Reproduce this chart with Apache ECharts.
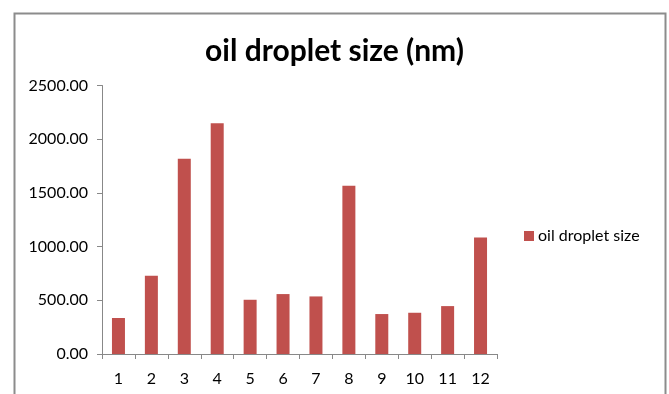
<!DOCTYPE html>
<html><head><meta charset="utf-8">
<script src="https://cdn.jsdelivr.net/npm/echarts@6/dist/echarts.min.js"></script>
<style>html,body{margin:0;padding:0;background:#fff}#c{width:669px;height:394px}</style>
</head><body><div id="c"></div>
<script>
var categories = ['1','2','3','4','5','6','7','8','9','10','11','12'];
var dropletSize = [335, 728, 1817, 2149, 505, 558, 536, 1566, 372, 384, 446, 1085];
var yTicks = [0, 500, 1000, 1500, 2000, 2500];
var seriesName = 'oil droplet size';
var titleText = 'oil droplet size (nm)';

var chart = echarts.init(document.getElementById('c'), null, {renderer:'canvas'});
chart.setOption({
  animation: false,
  backgroundColor: '#fff',
  graphic: [{type:'rect', shape:{x:14.5,y:13.5,width:651,height:400}, style:{fill:'none',stroke:'#8c8c8c',lineWidth:2}, z:-1}],
  title: {text: titleText, left: 'center', top: 31, textStyle:{fontFamily:'Lato', fontWeight:'bold', fontSize:30, color:'#000'}},
  legend: {data:[seriesName], orient:'vertical', left: 519, top: 223, itemWidth: 10, itemHeight: 10, itemGap: 4,
    icon: 'rect', textStyle:{fontFamily:'Lato', fontSize:16, color:'#000', padding:[0,0,0,-1]}},
  grid: {left: 102, top: 85.5, right: 172, bottom: 40},
  xAxis: {type:'category', data: categories,
    axisLine:{lineStyle:{color:'#888'}},
    axisTick:{show:true, length:5, lineStyle:{color:'#888'}},
    axisLabel:{fontFamily:'Lato', fontSize:16, color:'#000', margin:17}},
  yAxis: {type:'value', min: yTicks[0], max: yTicks[yTicks.length-1], interval: 500,
    axisLine:{show:true, lineStyle:{color:'#888'}},
    axisTick:{show:true, length:5, lineStyle:{color:'#888'}},
    splitLine:{show:false},
    axisLabel:{fontFamily:'Lato', fontSize:16, color:'#000', margin:14, formatter:function(v){return v.toFixed(2);}}},
  series: [{name: seriesName, type:'bar', data: dropletSize, barWidth: 13, itemStyle:{color:'#C0504D'}}]
});
</script></body></html>
